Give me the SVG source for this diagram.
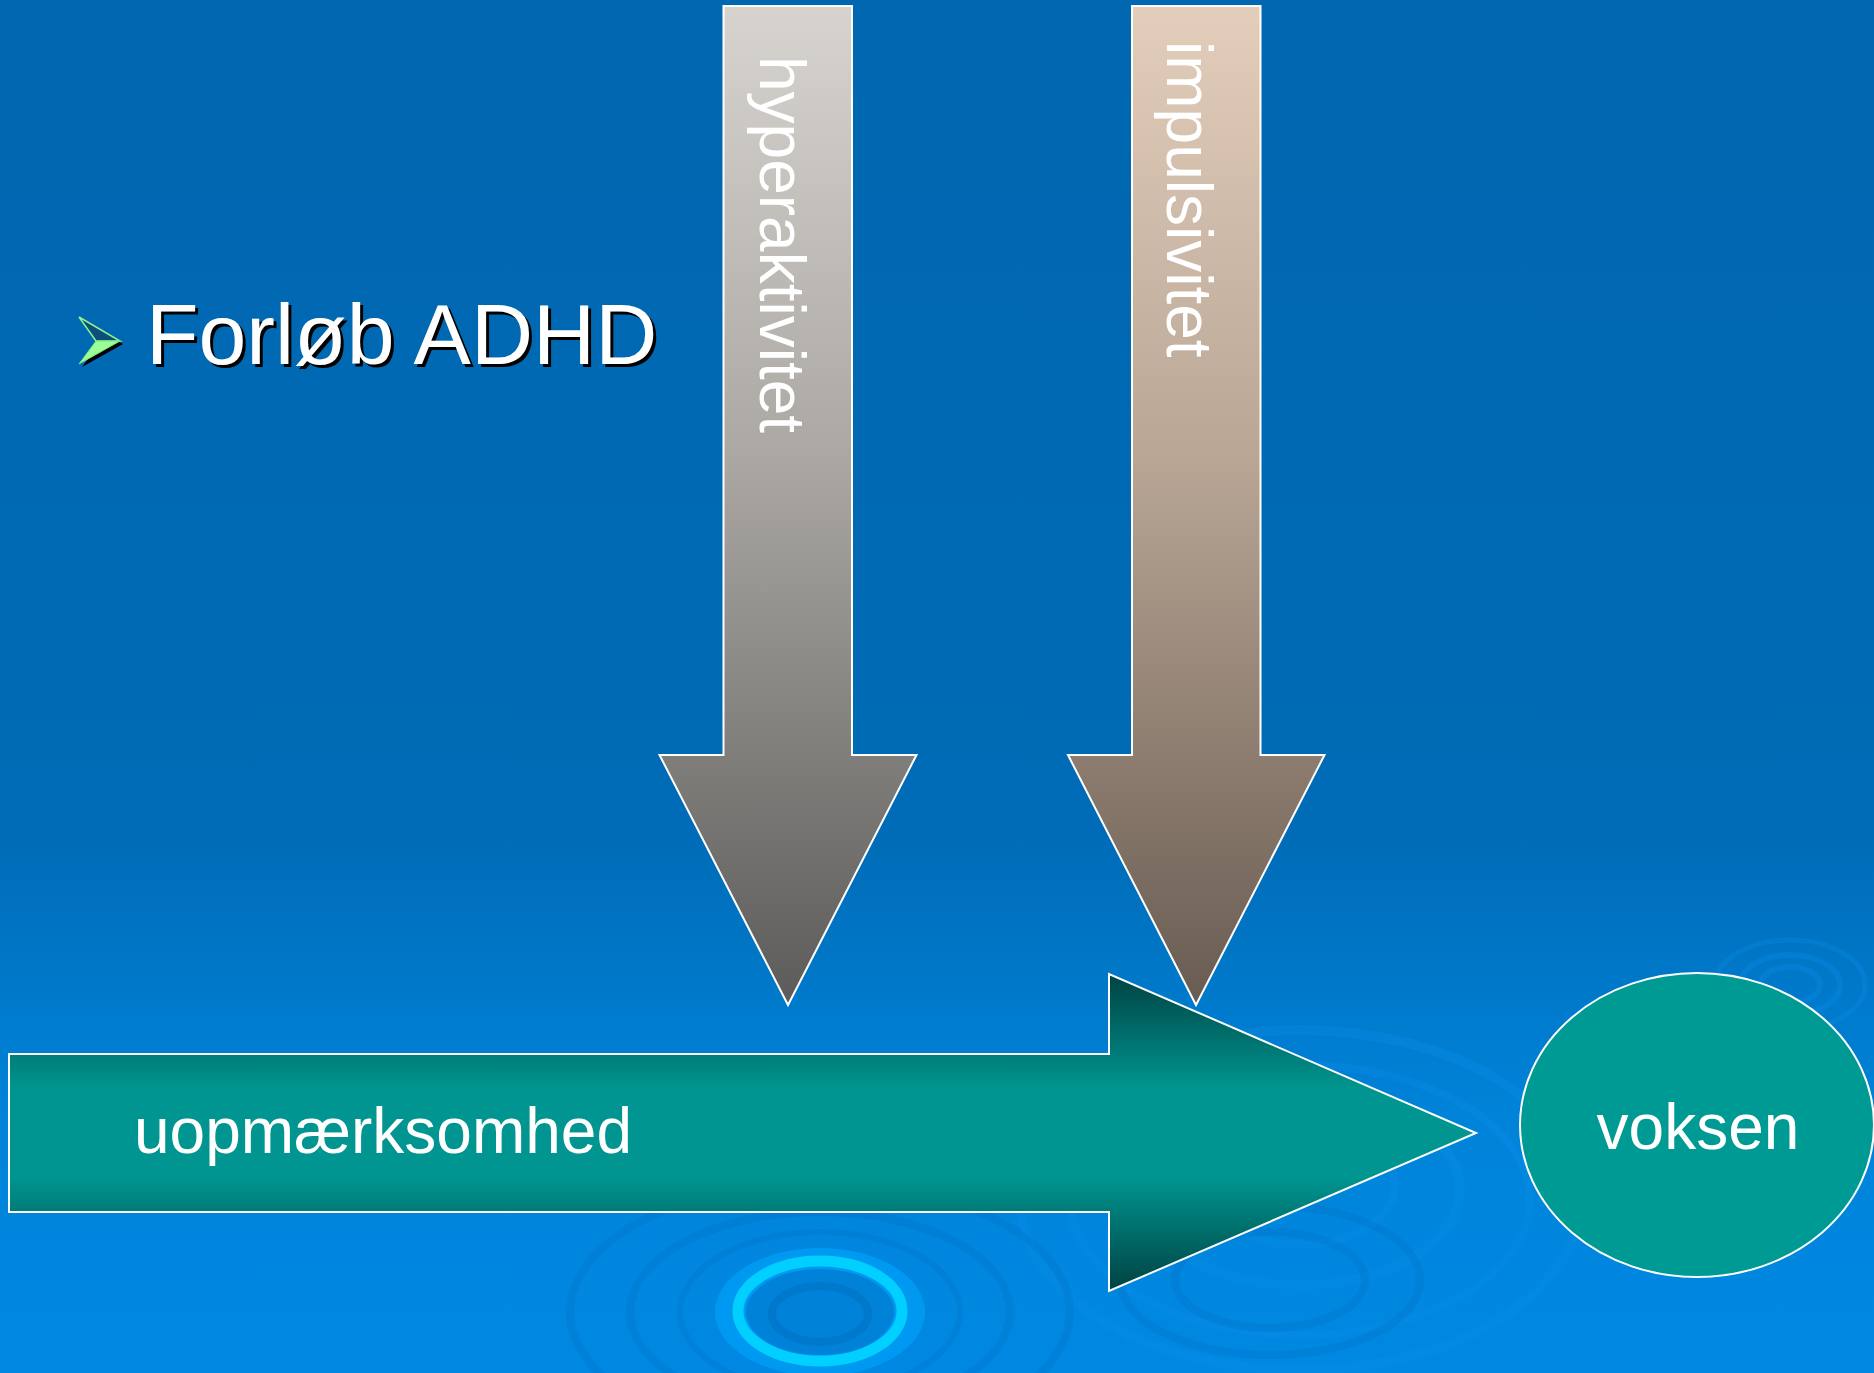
<svg xmlns="http://www.w3.org/2000/svg" width="1874" height="1373" viewBox="0 0 1874 1373">
<defs>
<linearGradient id="bg" x1="0" y1="0" x2="0" y2="1">
<stop offset="0" stop-color="#0067B0"/>
<stop offset="0.6" stop-color="#006BB6"/>
<stop offset="0.82" stop-color="#0084DA"/>
<stop offset="1" stop-color="#0088E2"/>
</linearGradient>
<linearGradient id="gHyper" gradientUnits="userSpaceOnUse" x1="0" y1="6" x2="0" y2="1005">
<stop offset="0" stop-color="#D7D4D0"/>
<stop offset="0.45" stop-color="#ABA8A4"/>
<stop offset="1" stop-color="#5C5B59"/>
</linearGradient>
<linearGradient id="gImp" gradientUnits="userSpaceOnUse" x1="0" y1="6" x2="0" y2="1005">
<stop offset="0" stop-color="#E3CEBB"/>
<stop offset="0.45" stop-color="#B9A695"/>
<stop offset="1" stop-color="#685B51"/>
</linearGradient>
<linearGradient id="gGreen" gradientUnits="userSpaceOnUse" x1="0" y1="974" x2="0" y2="1291">
<stop offset="0" stop-color="#004242"/>
<stop offset="0.36" stop-color="#009590"/>
<stop offset="0.64" stop-color="#009590"/>
<stop offset="1" stop-color="#004242"/>
</linearGradient>
<style>
.shape{stroke:#FFFFFF;stroke-width:2;stroke-linejoin:miter}
.lbl{font-family:"Liberation Sans",Arial,sans-serif;font-size:64px;fill:#FFFFFF}
.title{font-family:"Liberation Sans",Arial,sans-serif;font-size:86px}
.ripple{fill:none;stroke:#0A8FEA;stroke-opacity:0.3}
.rippleD{fill:none;stroke:#0070C4;stroke-opacity:0.3}
</style>
</defs>
<rect x="0" y="0" width="1874" height="1373" fill="url(#bg)"/>
<g id="ripples">
<ellipse class="ripple" cx="1300" cy="1200" rx="280" ry="170" stroke-width="10"/>
<ellipse class="ripple" cx="1300" cy="1200" rx="230" ry="135" stroke-width="8"/>
<ellipse class="ripple" cx="1300" cy="1190" rx="160" ry="95" stroke-width="10"/>
<ellipse class="ripple" cx="1300" cy="1185" rx="95" ry="60" stroke-width="8"/>
<ellipse class="rippleD" cx="1270" cy="1280" rx="150" ry="75" stroke-width="8"/>
<ellipse class="rippleD" cx="1270" cy="1280" rx="95" ry="48" stroke-width="8"/>
<ellipse class="ripple" cx="1790" cy="985" rx="50" ry="30" stroke-width="6"/>
<ellipse class="ripple" cx="1790" cy="985" rx="30" ry="18" stroke-width="6"/>
<ellipse class="ripple" cx="1790" cy="985" rx="75" ry="45" stroke-width="5"/>
<ellipse class="rippleD" cx="820" cy="1312" rx="250" ry="130" stroke-width="8"/>
<ellipse class="rippleD" cx="820" cy="1312" rx="190" ry="100" stroke-width="8"/>
<ellipse class="rippleD" cx="820" cy="1312" rx="140" ry="80" stroke-width="6"/>
<ellipse cx="820" cy="1312" rx="105" ry="64" fill="#0099F2"/>
<ellipse cx="820" cy="1311" rx="82" ry="50" fill="none" stroke="#00CFFF" stroke-width="11"/>
<ellipse cx="820" cy="1312" rx="74" ry="43" fill="#0082D8"/>
<ellipse cx="820" cy="1314" rx="48" ry="28" fill="none" stroke="#0078CC" stroke-width="8"/>
</g>
<g id="title">
<g id="bullet" transform="translate(3,3)">
<polygon points="79,317 120,341 96,341" fill="#000000"/>
<polygon points="96,341 120,341 79,364" fill="#000000"/>
</g>
<polygon points="79,317 120,341 96,341" fill="#0B4F7A" stroke="#8FF08F" stroke-width="1.5"/>
<polygon points="96,341 120,341 79,364" fill="#99FF99" stroke="#7FE07F" stroke-width="1"/>
<text class="title" x="149" y="367" fill="#000000">Forløb ADHD</text>
<text class="title" x="146" y="364" fill="#FFFFFF">Forløb ADHD</text>
</g>
<g id="connectors">
<g id="arrow-hyperaktivitet">
<polygon class="shape" fill="url(#gHyper)" points="723.5,6 852,6 852,755 916.5,755 788,1005 659.5,755 723.5,755"/>
<text class="lbl" transform="translate(760,56) rotate(90)">hyperaktivitet</text>
</g>
<g id="arrow-impulsivitet">
<polygon class="shape" fill="url(#gImp)" points="1132,6 1260.5,6 1260.5,755 1324.5,755 1196,1005 1068,755 1132,755"/>
<text class="lbl" transform="translate(1167,41) rotate(90)">impulsivitet</text>
</g>
<g id="arrow-uopmaerksomhed">
<polygon class="shape" fill="url(#gGreen)" points="9,1054 1109,1054 1109,974 1476,1133 1109,1291 1109,1212 9,1212"/>
<text class="lbl" x="134" y="1153">uopmærksomhed</text>
</g>
</g>
<g id="node-voksen">
<ellipse class="shape" cx="1697" cy="1125" rx="177" ry="152" fill="#009A95"/>
<text class="lbl" x="1698" y="1149" text-anchor="middle">voksen</text>
</g>
</svg>
